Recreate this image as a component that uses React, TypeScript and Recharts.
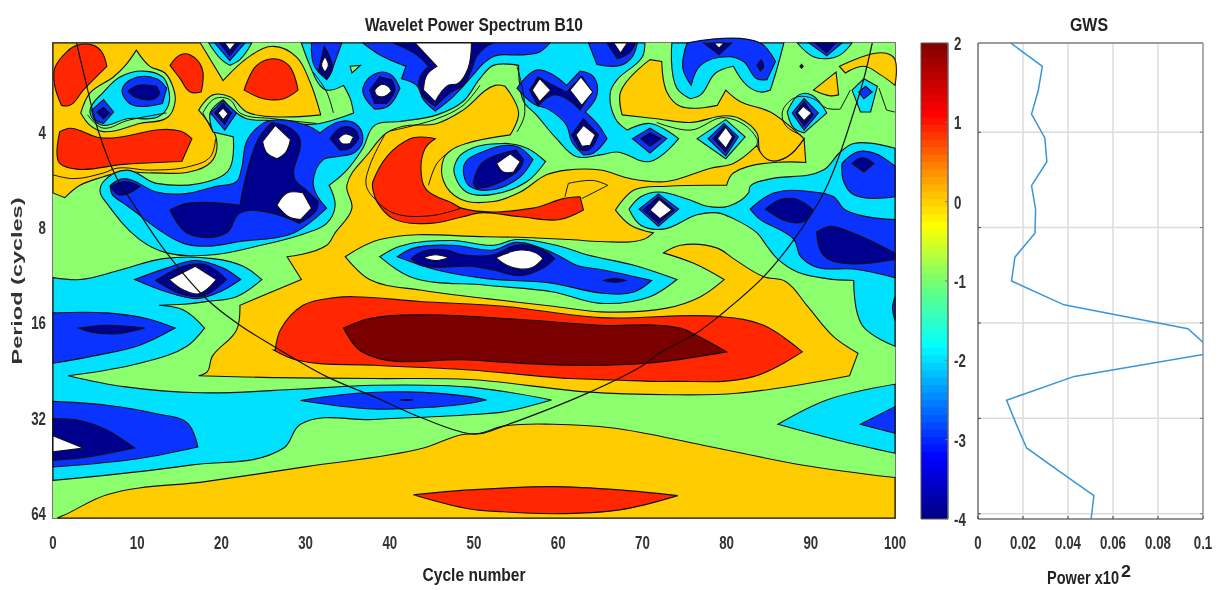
import React from 'react';
import { ComposedChart, LineChart, Line, Scatter, XAxis, YAxis, CartesianGrid, ReferenceArea } from 'recharts';

type Pt = number[];
const ORANGE = '#ffcc00', RED = '#ff2600', DARKRED = '#7a0000', GREEN = '#8cff6e', CYAN = '#00e1ff', BLUE = '#0a33ff', NAVY = '#00008f', WHITE = '#ffffff';
const V0 = 1.065, V1 = 6.055;

const frame: Pt[] = [[0,V0],[100,V0],[100,V1],[0,V1]];
const orangeTopLeft: Pt[] = [[0,V0],[17.5,V0],[20.2,1.46],[23.6,1.19],[26.2,1.10],[28.9,1.21],[30.5,1.47],[31.8,1.82],[26.2,1.84],[23,1.79],[21,1.63],[19,1.61],[17.3,1.77],[19.4,2.07],[19,2.29],[17.1,2.40],[11.5,2.43],[8,2.42],[6,2.47],[3.2,2.56],[1.4,2.69],[0,2.64]];
const orangeCentre: Pt[] = [[39.6,2.01],[37.6,2.21],[34.9,2.56],[35.5,2.80],[33.5,3.06],[32.5,3.19],[27.8,3.31],[29.5,3.55],[22.2,3.82],[21.8,4.08],[18.9,4.36],[18.3,4.52],[17.3,4.56],[26.2,4.58],[38.1,4.59],[49.5,4.60],[63.4,4.73],[73.3,4.76],[81.2,4.745],[94.6,4.56],[95.6,4.325],[92.7,4.15],[89.6,3.83],[87,3.57],[84.4,3.52],[80.8,3.33],[78.9,3.22],[74.5,3.19],[72.5,3.27],[76.1,3.38],[79.7,3.55],[76.9,3.73],[72.9,3.85],[65,3.89],[59.4,3.83],[51.5,3.75],[43.6,3.66],[37.6,3.55],[34.7,3.31],[38.8,3.13],[51.5,3.10],[61.4,3.13],[65,3.15],[70.1,3.13],[71.3,3.06],[68.6,2.98],[66.8,2.82],[69,2.61],[72.9,2.57],[80,2.56],[80.8,2.43],[89.4,2.32],[89.2,2.07],[87.2,2.26],[85.2,2.30],[84,2.21],[83.6,2.14],[80.8,2.33],[78.1,2.38],[72.9,2.52],[68.6,2.49],[65,2.40],[61,2.40],[58.6,2.45],[55.5,2.63],[52.3,2.73],[48.3,2.70],[46.4,2.52],[46.4,2.28],[47.3,2.19],[49.1,2.12],[54.3,2.03],[55.3,1.80],[53.7,1.52],[52.5,1.51],[48.7,1.77],[45.6,1.91],[41.6,1.94]];
const orangeUpperRight: Pt[] = [[67.4,1.58],[70.9,1.24],[72.3,1.26],[72.9,1.58],[74.5,1.73],[78.9,1.72],[79.9,1.56],[81.6,1.68],[85.2,1.79],[89.2,2.07],[87.2,2.26],[85.2,2.30],[84,2.21],[83.6,2.01],[81.6,1.86],[79.9,1.83],[75.7,1.90],[71.7,1.86],[67.6,1.82]];
const orangeSmall: Pt[] = [[90.3,1.56],[93,1.37],[93.3,1.61],[92.3,1.62]];
const orangeCorner: Pt[] = [[93.4,1.31],[97.9,1.17],[99.5,1.19],[100,1.24],[100,1.51],[98.3,1.40],[96.3,1.31],[94.1,1.38]];
const orangeBottom: Pt[] = [[1.2,6.03],[6.4,5.81],[18.3,5.67],[30.1,5.515],[44,5.32],[48.5,5.18],[50.7,5.165],[53.5,5.09],[59.4,5.07],[66.5,5.11],[77.2,5.29],[89.1,5.50],[100,5.63],[100,V1],[0.5,V1]];

const redA: Pt[] = [[0.2,1.33],[1.6,1.16],[2.8,1.09],[4.8,1.09],[5.8,1.16],[6.4,1.31],[3.6,1.56],[2,1.72],[1,1.72],[0.2,1.51]];
const redB: Pt[] = [[13.9,1.30],[15.1,1.19],[16.3,1.19],[17.7,1.33],[17.6,1.58],[16.3,1.58],[15.1,1.44]];
const redC: Pt[] = [[22.7,1.56],[24.2,1.30],[26.2,1.23],[28,1.30],[29.1,1.56],[27.4,1.65],[25,1.65]];
const redD: Pt[] = [[0.8,1.997],[2,1.96],[5.6,2.06],[15.1,1.99],[16.5,2.07],[15.3,2.31],[8.4,2.34],[2.8,2.39],[0.8,2.33],[0.5,2.26]];
const redCentre: Pt[] = [[38,2.52],[42.4,2.07],[45.4,2.07],[44.2,2.17],[43.8,2.49],[44.4,2.61],[47.5,2.75],[48.5,2.80],[57,2.80],[60.6,2.70],[62.6,2.68],[63,2.82],[60.2,2.92],[55.5,2.89],[50.7,2.85],[48.7,2.89],[44.8,2.96],[40.4,2.91],[38.6,2.75],[38,2.61]];
const redBig: Pt[] = [[26.4,4.29],[27,4.08],[29.7,3.82],[33.5,3.74],[35.7,3.73],[43.6,3.78],[53.5,3.83],[65,3.95],[79.3,3.94],[84.4,4.03],[89,4.31],[83.2,4.57],[73.3,4.62],[66.5,4.605],[61.4,4.59],[49.5,4.50],[38.1,4.45],[28.9,4.395],[26.2,4.29]];
const darkRedCore: Pt[] = [[34.5,4.06],[37.6,3.96],[43.6,3.92],[55.5,3.97],[65,4.03],[74.5,4.06],[76.3,4.13],[80,4.31],[70.5,4.43],[61.4,4.45],[49.5,4.395],[36.7,4.31]];
const redBottom: Pt[] = [[42.8,5.81],[49.5,5.76],[59.4,5.725],[67.3,5.76],[74.2,5.82],[67.3,5.97],[59.4,6.01],[53.5,5.99],[49.5,5.96]];

const greenBump: Pt[] = [[9.9,1.14],[11.5,1.31],[13.3,1.38],[14.3,1.54],[14.5,1.68],[13.7,1.84],[10.3,1.91],[6,1.996],[4.4,1.93],[3.3,1.80],[4.4,1.59],[7.2,1.42],[8.6,1.30]];

const cyanBump: Pt[] = [[4.4,1.77],[6,1.58],[8,1.42],[10.7,1.36],[13,1.42],[13.7,1.54],[13.7,1.72],[12.5,1.84],[8.8,1.86],[6,1.93],[4.8,1.87]];
const cyanTopSpot: Pt[] = [[18.5,V0],[20,1.24],[21,1.30],[22.2,1.24],[23.6,V0]];
const cyanMain: Pt[] = [[29.5,V0],[70.3,V0],[70,1.21],[67,1.45],[66.2,1.58],[66.8,1.86],[68.2,1.98],[70.9,1.91],[74.3,2.07],[70.9,2.31],[67,2.21],[65,2.24],[62.2,2.26],[59.8,2.07],[57.4,1.82],[55.9,1.68],[55.3,1.30],[52.3,1.30],[50.7,1.44],[48.7,1.68],[45.6,1.82],[41.2,1.89],[38.2,1.93],[36.8,2.17],[34.7,2.42],[32.8,2.56],[33.5,2.78],[32.5,2.96],[30.1,3.06],[24.2,3.2],[19,3.29],[13.5,3.27],[10.3,3.13],[6.4,2.75],[5.6,2.63],[6,2.52],[8.8,2.40],[12.3,2.54],[19.4,2.49],[21,2.38],[21.4,2.05],[19,2.0],[18.7,1.91],[18.7,1.79],[20.2,1.66],[21.8,1.80],[23,1.86],[26.2,1.88],[30.1,1.92],[31.7,1.91],[35.7,1.80],[35.3,1.65],[34.5,1.51],[32.5,1.56],[31.7,1.51],[30.5,1.30]];
const cyanUpperRight: Pt[] = [[73.5,V0],[74.1,1.54],[75.7,1.65],[76.9,1.61],[78.7,1.38],[80.8,1.31],[82.4,1.51],[84,1.58],[85.2,1.56],[86,1.33],[86.8,V0]];
const cyanTopRight: Pt[] = [[88.4,V0],[90.3,1.21],[91.9,1.23],[93.5,1.19],[94.9,V0]];
const cyanDiamondA: Pt[] = [[87.2,1.79],[88.6,1.61],[90.1,1.61],[91.9,1.80],[89.2,2.01],[88,1.96]];
const cyanDiamondB: Pt[] = [[94.9,1.56],[96.3,1.44],[97.9,1.52],[97.1,1.79],[95.9,1.79]];
const cyanDiamondC: Pt[] = [[76.5,2.07],[79.9,1.87],[82.2,2.05],[79.9,2.28]];
const cyanSpot: Pt[] = [[47.7,2.35],[48.7,2.22],[53.5,2.12],[56.3,2.17],[58.5,2.31],[56.3,2.52],[51.9,2.66],[49.1,2.63],[47.7,2.45]];
const cyanRight: Pt[] = [[100,2.17],[95.1,2.12],[93.5,2.21],[91.5,2.40],[84.8,2.50],[82.8,2.57],[82.6,2.64],[80.2,2.78],[77.7,2.78],[75.5,2.71],[71.9,2.63],[69.8,2.68],[68.4,2.81],[69.8,2.98],[72.5,3.02],[76.5,2.87],[78.9,2.85],[80.8,2.91],[83.6,3.06],[84.8,3.20],[86,3.33],[88.4,3.47],[91.9,3.54],[95.1,3.56],[96.1,4.03],[100,4.25]];
const cyanBand: Pt[] = [[38.8,3.31],[41.2,3.2],[47.5,3.14],[52.3,3.19],[55,3.13],[60.2,3.2],[63.4,3.29],[69,3.40],[74.1,3.55],[70.9,3.73],[65,3.80],[59.4,3.68],[51.5,3.61],[42.4,3.52]];
const cyanLeft: Pt[] = [[0,3.53],[3.2,3.55],[8,3.45],[13.1,3.33],[19,3.33],[22.6,3.41],[24.8,3.55],[21.8,3.73],[18.3,3.78],[15.5,3.81],[12.6,3.82],[15.5,3.87],[18,4.06],[15.9,4.25],[10.3,4.43],[1.8,4.56],[8.4,4.675],[17.5,4.74],[29.4,4.70],[38,4.66],[49.5,4.68],[59.2,4.815],[53.5,4.94],[49.5,4.97],[38.1,5.02],[29.4,5.07],[27.4,5.32],[16.3,5.50],[0,5.66]];
const cyanLowerRight: Pt[] = [[86.1,5.07],[91.9,4.815],[100,4.65],[100,5.375],[93.1,5.235]];

const blueList: Pt[][] = [
  [[4.6,1.77],[6,1.66],[7.2,1.79],[6,1.91],[5,1.87]],
  [[8.2,1.56],[9.2,1.45],[12.3,1.44],[13.5,1.54],[13,1.70],[9.5,1.72],[8.4,1.63]],
  [[19.2,V0],[21,1.25],[22.8,V0]],
  [[36.8,V0],[39,1.2],[41.9,1.31],[41.4,1.44],[43.2,1.51],[44,1.66],[45.4,1.78],[47.5,1.63],[49.9,1.40],[51.1,1.28],[52.5,1.2],[55.5,1.19],[57.8,1.16],[59,V0]],
  [[30.7,V0],[31,1.30],[32.5,1.45],[32.9,1.40],[33.5,1.26],[34.3,V0]],
  [[36.8,1.54],[38.2,1.39],[40,1.39],[41.2,1.54],[39.8,1.73],[38.2,1.76],[37,1.63]],
  [[23,2.1],[24.2,1.96],[25.8,1.88],[30.1,1.93],[31.7,2.01],[34.1,1.89],[35.9,1.91],[36.8,2.07],[35.9,2.21],[33.7,2.26],[32.1,2.29],[30.9,2.52],[31.3,2.66],[32.5,2.80],[28.6,3.06],[22.2,3.15],[18.3,3.2],[15.5,3.17],[12.3,3.01],[9.5,2.82],[8.4,2.75],[7,2.65],[6.8,2.56],[8.4,2.49],[12.3,2.63],[15.5,2.65],[19.4,2.57],[21.8,2.52],[22.4,2.38]],
  [[18.7,1.80],[20.2,1.67],[21.8,1.80],[20.4,1.98]],
  [[55.1,1.54],[57.4,1.35],[59,1.38],[61,1.51],[62.6,1.36],[64.2,1.42],[64.6,1.61],[63.2,1.79],[64.8,1.93],[65.8,2.07],[64.2,2.22],[63,2.24],[61.6,2.10],[61,1.93],[59,1.77],[57,1.70]],
  [[63.6,V0],[64.6,1.29],[67.4,1.30],[68.8,1.21],[69.4,V0]],
  [[87.8,1.80],[89.2,1.65],[90.9,1.80],[89.2,1.98]],
  [[95.7,1.58],[96.5,1.52],[97.3,1.58],[96.3,1.65]],
  [[75.3,V0],[74.8,1.33],[75.8,1.51],[76.9,1.30],[80.2,1.21],[82,1.26],[83.6,1.44],[84.8,1.45],[85.8,1.26],[84,V0]],
  [[89.8,V0],[91.9,1.2],[93.7,V0]],
  [[68.8,2.07],[70.9,1.96],[72.9,2.07],[70.9,2.22]],
  [[77.8,2.07],[79.7,1.91],[81.4,2.05],[79.9,2.25]],
  [[48.9,2.33],[50.7,2.22],[55,2.15],[57,2.29],[55.5,2.47],[51.9,2.61],[49.5,2.57],[48.9,2.49]],
  [[93.7,2.33],[95.5,2.21],[97.5,2.22],[100,2.36],[100,2.68],[95.1,2.66],[93.9,2.52]],
  [[82.8,2.81],[85.6,2.64],[90.3,2.63],[92.7,2.68],[94.1,2.82],[100,2.92],[100,3.53],[95.1,3.44],[90.7,3.42],[88.8,3.31],[88,3.13],[86.4,3.03],[84,2.92]],
  [[69.6,2.81],[71.9,2.65],[74.3,2.81],[71.9,2.99]],
  [[40.9,3.31],[42.8,3.22],[47.5,3.19],[52.3,3.24],[55,3.16],[59.4,3.27],[62.2,3.40],[65.4,3.45],[71.1,3.56],[69,3.68],[65,3.69],[59.4,3.59],[51.5,3.54],[45.6,3.45]],
  [[9.7,3.55],[13.5,3.43],[16.9,3.35],[20.2,3.43],[22.3,3.55],[19.8,3.68],[17.1,3.75],[13.5,3.68]],
  [[0,3.90],[6.4,3.90],[11.1,3.96],[14.5,4.06],[10.3,4.24],[4.4,4.36],[0,4.43]],
  [[0,4.83],[6.4,4.87],[12.3,4.96],[16,5.06],[17.2,5.31],[10.3,5.43],[0,5.52]],
  [[29.4,4.82],[36.1,4.745],[42,4.73],[49.5,4.78],[51.5,4.815],[49.5,4.85],[45.2,4.89],[38.1,4.91]],
  [[95.9,5.07],[100,4.885],[100,5.165]],
  [[99.7,3.85],[100,3.73],[100,3.98]],
];
const navyList: Pt[][] = [
  [[5.2,1.79],[6,1.74],[6.7,1.80],[6,1.86]],
  [[8.9,1.57],[10.1,1.51],[12.3,1.52],[12.7,1.59],[12.1,1.65],[9.7,1.63]],
  [[19.8,V0],[21,1.2],[22.2,V0]],
  [[40.4,V0],[43.2,1.19],[44.6,1.31],[43.6,1.42],[43.6,1.58],[45.4,1.73],[47.3,1.58],[48.7,1.51],[49.7,1.35],[50.3,1.21],[51.5,1.10],[52.3,V0]],
  [[31.5,1.37],[32.2,1.10],[33.2,1.33],[32.5,1.44]],
  [[37.6,1.56],[38.8,1.42],[40.2,1.45],[40.6,1.56],[39.6,1.70],[38.2,1.70]],
  [[24.4,2.07],[26,1.9],[28.2,1.96],[29.3,2.07],[28.7,2.49],[30.1,2.61],[31.5,2.73],[31.3,2.82],[29.3,2.96],[25.8,2.85],[22.2,2.85],[20.6,3.06],[15.9,3.06],[13.9,2.82],[15.9,2.75],[22.2,2.77]],
  [[6.8,2.57],[8.6,2.52],[10.3,2.57],[9.1,2.64],[7.8,2.66]],
  [[19.2,1.80],[20.2,1.70],[21.2,1.80],[20.4,1.92]],
  [[32.9,2.07],[34.3,1.95],[35.9,1.98],[36.3,2.07],[35.3,2.17],[34.1,2.19]],
  [[56.6,1.56],[57.6,1.42],[59.4,1.51],[61,1.58],[62.8,1.41],[64,1.58],[62.6,1.77],[61,1.65],[59.4,1.61],[57.6,1.73]],
  [[61.6,2.03],[63,1.86],[64.8,2.03],[63.6,2.19],[62.6,2.19]],
  [[65.8,V0],[67,1.23],[68.4,1.17],[69.2,V0]],
  [[88.2,1.80],[89.2,1.68],[90.3,1.82],[89.2,1.94]],
  [[83.6,1.30],[84.1,1.24],[84.4,1.31],[84,1.36]],
  [[77.3,V0],[79.1,1.19],[80.6,V0]],
  [[90.5,V0],[91.9,1.17],[92.9,V0]],
  [[88.7,1.31],[88.9,1.29],[89.1,1.31],[88.9,1.33]],
  [[69.8,2.07],[70.9,2.01],[72.2,2.07],[70.9,2.15]],
  [[78.4,2.07],[79.7,1.94],[81,2.05],[79.9,2.21]],
  [[49.9,2.54],[50.9,2.33],[55,2.19],[55.9,2.29],[55.5,2.38],[51.9,2.57],[50.3,2.59]],
  [[94.9,2.33],[96.1,2.27],[97.5,2.33],[96.3,2.42]],
  [[84.6,2.81],[86.4,2.71],[88.4,2.71],[90.3,2.82],[89.2,2.94],[87.2,2.94]],
  [[90.7,3.05],[92.3,2.99],[94.7,3.05],[100,3.27],[100,3.34],[92.7,3.36],[91.3,3.27]],
  [[70.1,2.82],[71.9,2.68],[73.8,2.82],[71.9,2.96]],
  [[42.5,3.33],[44,3.25],[46.7,3.24],[48.7,3.29],[52.3,3.29],[55,3.19],[57.8,3.22],[59.6,3.33],[58.2,3.43],[55.5,3.51],[52.3,3.45],[49.5,3.41],[45.6,3.42],[43.6,3.40]],
  [[65.4,3.56],[66.7,3.54],[68,3.56],[66.7,3.58]],
  [[12.2,3.56],[15.9,3.40],[18.3,3.40],[20.6,3.55],[17.9,3.72],[15.5,3.71]],
  [[3,4.06],[6.4,4.03],[10.9,4.06],[7.6,4.12],[4.4,4.10]],
  [[0,5.01],[3.2,5.03],[6.4,5.13],[9.7,5.32],[4.4,5.41],[0,5.45]],
  [[41.2,4.815],[42,4.81],[42.8,4.815],[42,4.82]],
];
const whiteList: Pt[][] = [
  [[20.4,V0],[21,1.14],[21.7,V0]],
  [[43,V0],[45.6,1.31],[44.4,1.40],[44,1.56],[45.4,1.68],[46.9,1.51],[48.1,1.49],[49.3,1.33],[49.7,V0]],
  [[31.9,1.30],[32.3,1.21],[32.7,1.30],[32.3,1.37]],
  [[38.2,1.56],[39,1.5],[39.8,1.52],[40.2,1.57],[39.2,1.63],[38.4,1.61]],
  [[24.9,2.10],[26.4,1.93],[28.2,2.08],[27.6,2.22],[26.6,2.28],[25.4,2.22]],
  [[26.6,2.77],[27.8,2.64],[29.7,2.64],[30.7,2.80],[29.4,2.92],[28,2.89]],
  [[19.6,1.80],[20.2,1.75],[20.8,1.81],[20.2,1.87]],
  [[33.9,2.07],[34.7,2.02],[35.7,2.05],[35.3,2.12],[34.3,2.12]],
  [[56.9,1.56],[57.8,1.44],[59.1,1.56],[57.8,1.68]],
  [[61.4,1.56],[62.7,1.42],[64.1,1.58],[62.8,1.72]],
  [[62.1,2.03],[63,1.93],[64.4,2.03],[63.8,2.14],[62.8,2.15]],
  [[66.6,V0],[67.4,1.17],[68.2,V0]],
  [[88.4,1.80],[89.1,1.73],[90.1,1.80],[89.2,1.88]],
  [[78.5,V0],[79.1,1.12],[79.7,V0]],
  [[78.9,2.07],[79.9,1.95],[80.7,2.05],[79.9,2.17]],
  [[52.7,2.33],[54.3,2.23],[55.5,2.31],[54.7,2.42],[53.5,2.42]],
  [[70.9,2.82],[72,2.71],[73.5,2.82],[72.1,2.91]],
  [[44,3.32],[45.4,3.29],[47,3.32],[45.4,3.35]],
  [[52.6,3.32],[55.5,3.24],[57.4,3.27],[58.2,3.33],[57,3.42],[55.5,3.44],[53.9,3.40]],
  [[13.8,3.55],[16.9,3.41],[19.4,3.55],[17.3,3.70],[15.5,3.66]],
  [[0,5.19],[3.6,5.32],[0,5.36]],
];
const greenIslet: Pt[] = [[35.3,1.31],[36.5,1.30],[35.5,1.38]];

const contourLines: Pt[][] = [
  [[0,2.45],[2.4,2.49],[6,2.43],[7.6,2.38],[11.5,2.40],[16.3,2.36],[18.7,2.26],[19.3,2.07]],
  [[4.1,1.82],[5,1.91],[6,1.96],[8.8,1.88],[13.5,1.80]],
  [[19,2],[17.8,1.80],[19.2,1.65],[21,1.66],[22.2,1.80],[26.2,1.86],[31.3,1.91]],
  [[30.9,1.37],[32.5,1.58],[33.3,1.80]],
  [[39.4,2.03],[37.6,2.36],[37.2,2.56],[38.4,2.72],[40.4,2.85],[44.8,2.88],[48.5,2.80]],
  [[44.6,2.56],[45.6,2.33],[47.3,2.19]],
  [[60.8,2.68],[61.2,2.54],[64.2,2.51],[65.9,2.56],[62.8,2.70]],
  [[40,1.99],[45.6,1.86],[48.7,1.72],[50.7,1.51]],
  [[55.1,1.31],[56,1.82],[55.1,2.0]],
  [[88.8,2.03],[87,1.93],[86.6,1.80],[87.2,1.70],[88.4,1.63],[90.3,1.65],[91.9,1.75],[93.5,1.76],[94.7,1.56]],
  [[98.1,1.54],[99,1.77],[100,1.79]],
  [[71.7,1.90],[75.7,1.98],[79.9,1.85],[83.6,2.07],[83.6,2.14]],
];
const coneOfInfluence: Pt[] = [[2.8,V0],[3.8,1.44],[5.4,1.995],[7.6,2.49],[9.2,2.71],[13.5,3.27],[18.3,3.76],[22.2,4.03],[26.2,4.25],[32.5,4.57],[38.1,4.78],[44,5.01],[49.5,5.17],[50.7,5.17],[53.5,5.09],[63.8,4.73],[70.1,4.45],[72.1,4.32],[76.3,4.12],[79.3,3.92],[84.4,3.52],[88,3.13],[91.7,2.61],[95.5,1.68],[96.3,1.44],[97.3,V0]];

const cycleTicks = [0,10,20,30,40,50,60,70,80,90,100];
const periodTicks = [2,3,4,5,6];
const colourbarTicks = [-4,-3,-2,-1,0,1,2];
const powerTicks = [0,0.02,0.04,0.06,0.08,0.1];
const gwsPeriod = [1.07,1.31,1.56,1.81,2.06,2.31,2.56,2.81,3.06,3.31,3.56,3.81,4.06,4.31,4.56,4.81,5.06,5.31,5.56,5.81,6.05];
const gwsPower = [0.0148,0.0286,0.0268,0.0238,0.0297,0.0306,0.0238,0.0256,0.0253,0.0164,0.0149,0.0382,0.0933,0.105,0.0428,0.0127,0.017,0.0216,0.0365,0.0515,0.0503];
const colourStops: [number, number[]][] = [[2,[128,0,0]],[1.1,[255,0,0]],[0.4,[255,140,0]],[-0.3,[255,255,0]],[-1.1,[102,255,128]],[-1.82,[0,255,255]],[-3.23,[0,0,255]],[-4,[0,0,128]]];

const filled: [Pt[], string][] = [
  [orangeTopLeft, ORANGE],[orangeCentre, ORANGE],[orangeUpperRight, ORANGE],[orangeSmall, ORANGE],[orangeCorner, ORANGE],[orangeBottom, ORANGE],
  [redA, RED],[redB, RED],[redC, RED],[redD, RED],[redCentre, RED],[redBig, RED],[redBottom, RED],[darkRedCore, DARKRED],
  [greenBump, GREEN],
  [cyanBump, CYAN],[cyanTopSpot, CYAN],[cyanMain, CYAN],[cyanUpperRight, CYAN],[cyanTopRight, CYAN],[cyanDiamondA, CYAN],[cyanDiamondB, CYAN],[cyanDiamondC, CYAN],[cyanSpot, CYAN],[cyanRight, CYAN],[cyanBand, CYAN],[cyanLeft, CYAN],[cyanLowerRight, CYAN],
  [greenIslet, GREEN],
  ...blueList.map((p): [Pt[], string] => [p, BLUE]),
  ...navyList.map((p): [Pt[], string] => [p, NAVY]),
  ...whiteList.map((p): [Pt[], string] => [p, WHITE]),
];

// Curve for the contours: smooth through the vertices, but keeps a sharp vertex sharp.
function contourCurve(closed: boolean) {
  return (ctx: any) => {
    let pts: number[][] = [];
    return {
      areaStart() {}, areaEnd() {},
      lineStart() { pts = []; },
      point(x: number, y: number) { pts.push([x, y]); },
      lineEnd() {
        const n = pts.length;
        if (!n) return;
        const at = (i: number) => (closed ? pts[(i + n) % n] : pts[Math.max(0, Math.min(n - 1, i))]);
        const tangents = pts.map((p, i) => {
          const a = at(i - 1), b = at(i + 1);
          const ux = p[0] - a[0], uy = p[1] - a[1], vx = b[0] - p[0], vy = b[1] - p[1];
          const lu = Math.hypot(ux, uy), lv = Math.hypot(vx, vy);
          if (lu === 0 || lv === 0) return [0, 0];
          const cos = (ux * vx + uy * vy) / (lu * lv);
          if (cos < 0.55) return [0, 0];
          const tx = ux / lu + vx / lv, ty = uy / lu + vy / lv, l = Math.hypot(tx, ty);
          return [tx / l, ty / l];
        });
        ctx.moveTo(pts[0][0], pts[0][1]);
        const count = closed ? n : n - 1;
        for (let i = 0; i < count; i++) {
          const p = pts[i], q = pts[(i + 1) % n], tp = tangents[i], tq = tangents[(i + 1) % n];
          const d = Math.hypot(q[0] - p[0], q[1] - p[1]) * 0.35;
          ctx.bezierCurveTo(p[0] + tp[0] * d, p[1] + tp[1] * d, q[0] - tq[0] * d, q[1] - tq[1] * d, q[0], q[1]);
        }
        if (closed) ctx.closePath();
      },
    };
  };
}
const closedContour = contourCurve(true);
const openContour = contourCurve(false);

const toXY = (p: Pt[]) => p.map(([x, y]) => ({ x, y }));
const NoPoint = () => <g />;
const FONT = '"Liberation Sans", Arial, sans-serif';
const titleStyle = { fontFamily: FONT, fontSize: 19, fontWeight: 700, fill: '#222' };
const SPINE = '#777';

const makeTick = (dy: number, format: (v: number) => string) => (p: any) => (
  <text transform={`translate(${p.x},${p.y}) scale(0.7,1)`} dy={dy} textAnchor={p.textAnchor} style={{ fontFamily: FONT, fontSize: 19, fontWeight: 700, fill: '#333' }}>
    {format(p.payload.value)}
  </text>
);
const cycleTick = makeTick(14, String);
const periodTick = makeTick(7, (v) => String(2 ** v));
const colourTick = makeTick(7, String);
const powerTick = makeTick(14, String);

function colourAt(v: number) {
  for (let i = 0; i < colourStops.length - 1; i++) {
    const [a, ca] = colourStops[i], [b, cb] = colourStops[i + 1];
    if (v <= a && v >= b) {
      const t = (a - v) / (a - b);
      return `rgb(${ca.map((c, k) => Math.round(c + (cb[k] - c) * t)).join(',')})`;
    }
  }
  return '#000';
}
const bandCount = 64;
const bands = Array.from({ length: bandCount }, (_, i) => -4 + (i * 6) / bandCount);
const gwsRows = gwsPeriod.map((period, i) => ({ period, power: gwsPower[i] }));

export default function App() {
  return (
    <div style={{ position: 'absolute', left: 0, top: 0, width: 1220, height: 590, background: '#fff', filter: 'blur(0.45px)' }}>
      <div style={{ position: 'absolute', left: 0, top: 0 }}>
        <ComposedChart width={910} height={590} margin={{ top: 42, left: 52, right: 14, bottom: 71 }}>
          <XAxis dataKey="x" type="number" domain={[0, 100]} ticks={cycleTicks} height={1} interval={0} stroke={SPINE} tick={cycleTick} tickSize={-6} tickMargin={23} />
          <XAxis xAxisId="top" orientation="top" type="number" domain={[0, 100]} ticks={cycleTicks} height={1} interval={0} stroke={SPINE} tickSize={-6} tickFormatter={() => ''} />
          <YAxis dataKey="y" type="number" reversed domain={[V0, V1]} ticks={periodTicks} width={1} interval={0} stroke={SPINE} tick={periodTick} tickSize={-6} tickMargin={13} />
          <YAxis yAxisId="right" orientation="right" type="number" reversed domain={[V0, V1]} ticks={periodTicks} width={1} interval={0} stroke={SPINE} tickSize={-6} tickFormatter={() => ''} />
          <Scatter data={toXY(frame)} fill={GREEN} isAnimationActive={false} shape={NoPoint} lineJointType="linearClosed" line={{ fill: GREEN, stroke: 'none' }} />
          {filled.map(([pts, fill], i) => (
            <Scatter key={`f${i}`} data={toXY(pts)} fill={fill} isAnimationActive={false} shape={NoPoint} lineJointType={closedContour as any} line={{ fill, stroke: '#111', strokeWidth: 1.1 }} />
          ))}
          {contourLines.map((pts, i) => (
            <Scatter key={`l${i}`} data={toXY(pts)} fill="none" isAnimationActive={false} shape={NoPoint} lineJointType={openContour as any} line={{ fill: 'none', stroke: '#111', strokeWidth: 1 }} />
          ))}
          <Scatter data={toXY(coneOfInfluence)} fill="none" isAnimationActive={false} shape={NoPoint} lineJointType={openContour as any} line={{ fill: 'none', stroke: '#111', strokeWidth: 1.2 }} />
          <ReferenceArea x1={0} x2={100} y1={V0} y2={V1} fill="none" stroke={SPINE} strokeWidth={2} />
          <text x={474} y={31} textAnchor="middle" textLength={218} lengthAdjust="spacingAndGlyphs" style={titleStyle}>Wavelet Power Spectrum B10</text>
          <text x={474} y={581} textAnchor="middle" textLength={103} lengthAdjust="spacingAndGlyphs" style={titleStyle}>Cycle number</text>
          <text transform="translate(22 281) rotate(-90)" textAnchor="middle" textLength={167} lengthAdjust="spacingAndGlyphs" style={{ fontFamily: FONT, fontSize: 15, fontWeight: 700, fill: '#333' }}>Period (cycles)</text>
        </ComposedChart>
      </div>
      <div style={{ position: 'absolute', left: 900, top: 0 }}>
        <ComposedChart width={80} height={590} data={[{ x: 0, y: 0 }]} margin={{ top: 43, left: 21, right: 31, bottom: 71 }}>
          <XAxis dataKey="x" type="number" domain={[0, 1]} hide />
          <YAxis orientation="right" dataKey="y" type="number" domain={[-4, 2]} ticks={colourbarTicks} width={1} interval={0} stroke={SPINE} tick={colourTick} tickSize={-3} tickMargin={9} />
          {bands.map((b, i) => (
            <ReferenceArea key={i} y1={b} y2={Math.min(2, b + 6 / bandCount + 0.02)} fill={colourAt(b + 3 / bandCount)} fillOpacity={1} stroke="none" />
          ))}
          <ReferenceArea y1={-4} y2={2} fill="none" stroke="#555" />
        </ComposedChart>
      </div>
      <div style={{ position: 'absolute', left: 960, top: 0 }}>
        <LineChart layout="vertical" width={260} height={590} data={gwsRows} margin={{ top: 42, left: 17, right: 16, bottom: 70 }}>
          <CartesianGrid stroke="#dcdcdc" strokeWidth={1.5} />
          <XAxis type="number" domain={[0, 0.1]} allowDataOverflow ticks={powerTicks} height={1} interval={0} stroke="#444" tick={powerTick} tickSize={-3} tickMargin={19} />
          <XAxis xAxisId="top" orientation="top" type="number" domain={[0, 0.1]} ticks={powerTicks} height={1} interval={0} stroke="#555" tickSize={-3} tickFormatter={() => ''} />
          <YAxis dataKey="period" type="number" domain={[V0, V1]} ticks={periodTicks} width={1} interval={0} stroke="#444" tickSize={-3} tickFormatter={() => ''} />
          <YAxis yAxisId="right" dataKey="period" orientation="right" type="number" domain={[V0, V1]} allowDataOverflow ticks={periodTicks} width={1} interval={0} stroke="#777" tickSize={-3} tickFormatter={() => ''} />
          <Line dataKey="power" stroke="#3a96d8" strokeWidth={1.5} dot={false} isAnimationActive={false} />
          <text x={129} y={31} textAnchor="middle" textLength={38} lengthAdjust="spacingAndGlyphs" style={titleStyle}>GWS</text>
          <text x={87} y={584} textLength={72} lengthAdjust="spacingAndGlyphs" style={titleStyle}>Power x10</text>
          <text x={161} y={577} textLength={10} lengthAdjust="spacingAndGlyphs" style={{ ...titleStyle, fontSize: 16 }}>2</text>
        </LineChart>
      </div>
    </div>
  );
}
